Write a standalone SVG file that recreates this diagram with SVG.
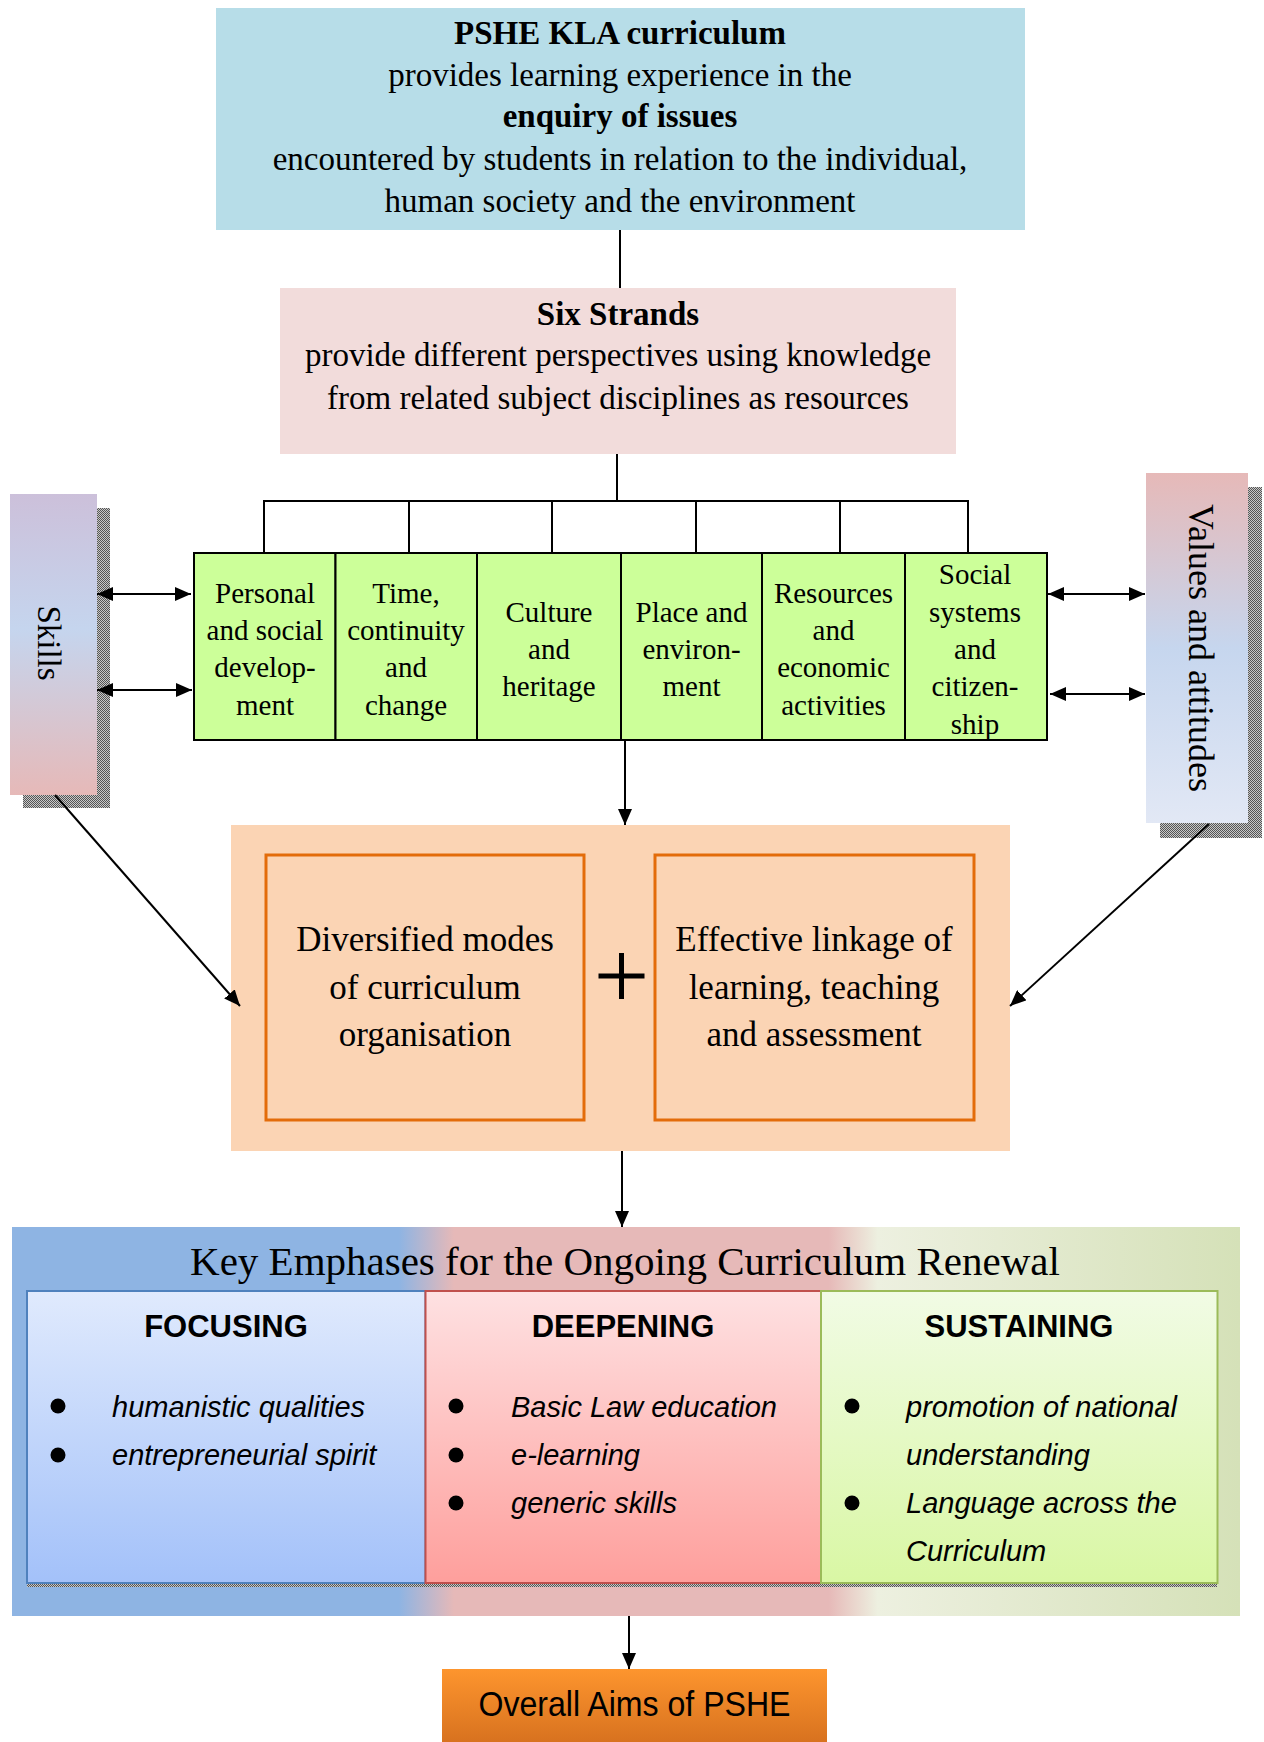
<svg xmlns="http://www.w3.org/2000/svg" width="1264" height="1742" viewBox="0 0 1264 1742">
<defs>
<style>
.serif{font-family:"Liberation Serif","Times New Roman",serif;fill:#000}
.sans{font-family:"Liberation Sans",Arial,sans-serif;fill:#000}
.c{text-anchor:middle}
.b{font-weight:bold}
.it{font-style:italic}
.conn{stroke:#000;stroke-width:2;fill:none}
.strand{fill:#CCFF99;stroke:#000;stroke-width:2}
.inner{fill:#FBD4B4;stroke:#E36C0A;stroke-width:3}
</style>
<marker id="ah" viewBox="0 0 16 14" refX="16" refY="7" markerWidth="16" markerHeight="14" markerUnits="userSpaceOnUse" orient="auto-start-reverse">
<path d="M0,0 L16,7 L0,14 z" fill="#000"/>
</marker>
<pattern id="dither" width="2" height="2" patternUnits="userSpaceOnUse">
<rect width="2" height="2" fill="#c8c8c8"/>
<rect width="1" height="1" fill="#555"/>
<rect x="1" y="1" width="1" height="1" fill="#555"/>
</pattern>
<linearGradient id="gSkills" x1="0" y1="0" x2="0" y2="1">
<stop offset="0" stop-color="#CCC0DA"/>
<stop offset="0.45" stop-color="#C5D5EE"/>
<stop offset="1" stop-color="#E6B9B8"/>
</linearGradient>
<linearGradient id="gValues" x1="0" y1="0" x2="0" y2="1">
<stop offset="0" stop-color="#E6B9B8"/>
<stop offset="0.5" stop-color="#C6D6EE"/>
<stop offset="1" stop-color="#E2E8F5"/>
</linearGradient>
<linearGradient id="gKey" x1="0" y1="0" x2="1" y2="0">
<stop offset="0" stop-color="#8EB4E3"/>
<stop offset="0.315" stop-color="#8EB4E3"/>
<stop offset="0.36" stop-color="#E6B9B8"/>
<stop offset="0.665" stop-color="#E6B9B8"/>
<stop offset="0.705" stop-color="#EDF0E0"/>
<stop offset="1" stop-color="#D5E1B8"/>
</linearGradient>
<linearGradient id="gFoc" x1="0" y1="0" x2="0" y2="1">
<stop offset="0" stop-color="#E0EAFD"/>
<stop offset="1" stop-color="#A3C1F9"/>
</linearGradient>
<linearGradient id="gDeep" x1="0" y1="0" x2="0" y2="1">
<stop offset="0" stop-color="#FEE1E2"/>
<stop offset="1" stop-color="#FE9F9C"/>
</linearGradient>
<linearGradient id="gSus" x1="0" y1="0" x2="0" y2="1">
<stop offset="0" stop-color="#F1FBE5"/>
<stop offset="1" stop-color="#D9F7A4"/>
</linearGradient>
<linearGradient id="gAims" x1="0" y1="0" x2="0" y2="1">
<stop offset="0" stop-color="#FD952E"/>
<stop offset="1" stop-color="#D8721F"/>
</linearGradient>
</defs>
<rect width="1264" height="1742" fill="#fff"/>

<g id="pshe">
<rect x="216" y="8" width="809" height="222" fill="#B7DDE8"/>
<text class="serif c b" x="620" y="44" font-size="33">PSHE KLA curriculum</text>
<text class="serif c" x="620" y="86" font-size="33">provides learning experience in the</text>
<text class="serif c b" x="620" y="127" font-size="33">enquiry of issues</text>
<text class="serif c" x="620" y="170" font-size="33">encountered by students in relation to the individual,</text>
<text class="serif c" x="620" y="212" font-size="33">human society and the environment</text>
</g>

<g id="six-strands">
<rect x="280" y="288" width="676" height="166" fill="#F2DCDB"/>
<text class="serif c b" x="618" y="325" font-size="33">Six Strands</text>
<text class="serif c" x="618" y="366" font-size="33">provide different perspectives using knowledge</text>
<text class="serif c" x="618" y="409" font-size="33">from related subject disciplines as resources</text>
</g>

<g id="skills">
<rect x="23" y="508" width="87" height="300" fill="url(#dither)"/>
<rect x="10" y="494" width="87" height="301" fill="url(#gSkills)"/>
<text class="serif c" transform="translate(38,643) rotate(90)" x="0" y="0" font-size="33">Skills</text>
</g>

<g id="values">
<rect x="1160" y="487" width="102" height="351" fill="url(#dither)"/>
<rect x="1146" y="473" width="102" height="350" fill="url(#gValues)"/>
<text class="serif c" transform="translate(1189,648) rotate(90)" x="0" y="0" font-size="36">Values and attitudes</text>
</g>

<g id="strand1">
<rect class="strand" x="194" y="553" width="141.5" height="187"/>
<text class="serif c" font-size="29"><tspan x="265" y="603">Personal</tspan><tspan x="265" y="640">and social</tspan><tspan x="265" y="677">develop-</tspan><tspan x="265" y="715">ment</tspan></text>
</g>
<g id="strand2">
<rect class="strand" x="335.5" y="553" width="141.5" height="187"/>
<text class="serif c" font-size="29"><tspan x="406" y="603">Time,</tspan><tspan x="406" y="640">continuity</tspan><tspan x="406" y="677">and</tspan><tspan x="406" y="715">change</tspan></text>
</g>
<g id="strand3">
<rect class="strand" x="477" y="553" width="144" height="187"/>
<text class="serif c" font-size="29"><tspan x="549" y="622">Culture</tspan><tspan x="549" y="659">and</tspan><tspan x="549" y="696">heritage</tspan></text>
</g>
<g id="strand4">
<rect class="strand" x="621" y="553" width="141" height="187"/>
<text class="serif c" font-size="29"><tspan x="691.5" y="622">Place and</tspan><tspan x="691.5" y="659">environ-</tspan><tspan x="691.5" y="696">ment</tspan></text>
</g>
<g id="strand5">
<rect class="strand" x="762" y="553" width="143" height="187"/>
<text class="serif c" font-size="29"><tspan x="833.5" y="603">Resources</tspan><tspan x="833.5" y="640">and</tspan><tspan x="833.5" y="677">economic</tspan><tspan x="833.5" y="715">activities</tspan></text>
</g>
<g id="strand6">
<rect class="strand" x="905" y="553" width="142" height="187"/>
<text class="serif c" font-size="29"><tspan x="975" y="584">Social</tspan><tspan x="975" y="622">systems</tspan><tspan x="975" y="659">and</tspan><tspan x="975" y="696">citizen-</tspan><tspan x="975" y="734">ship</tspan></text>
</g>

<g id="modes">
<rect x="231" y="825" width="779" height="326" fill="#FBD4B4"/>
<rect class="inner" x="266" y="855" width="318" height="265"/>
<text class="serif c" font-size="35"><tspan x="425" y="951">Diversified modes</tspan><tspan x="425" y="999">of curriculum</tspan><tspan x="425" y="1046">organisation</tspan></text>
<path d="M621.5,953 V999 M598.5,976 H644.5" stroke="#000" stroke-width="5" fill="none"/>
<rect class="inner" x="655" y="855" width="319" height="265"/>
<text class="serif c" font-size="35"><tspan x="814" y="951">Effective linkage of</tspan><tspan x="814" y="999">learning, teaching</tspan><tspan x="814" y="1046">and assessment</tspan></text>
</g>

<g id="key-emphases">
<rect x="12" y="1227" width="1228" height="389" fill="url(#gKey)"/>
<text class="serif c" x="625" y="1275" font-size="41">Key Emphases for the Ongoing Curriculum Renewal</text>
<rect x="27" y="1583" width="1190" height="4" fill="url(#dither)"/>
</g>

<g id="focusing">
<rect x="27" y="1291" width="398.5" height="292" fill="url(#gFoc)" stroke="#4F81BD" stroke-width="2"/>
<text class="sans c b" x="226" y="1337" font-size="31">FOCUSING</text>
<circle cx="58" cy="1406" r="7.5"/>
<circle cx="58" cy="1455" r="7.5"/>
<text class="sans it" font-size="29"><tspan x="112" y="1417">humanistic qualities</tspan><tspan x="112" y="1465">entrepreneurial spirit</tspan></text>
</g>

<g id="deepening">
<rect x="425.5" y="1291" width="395.5" height="292" fill="url(#gDeep)" stroke="#C0504D" stroke-width="2"/>
<text class="sans c b" x="623" y="1337" font-size="31">DEEPENING</text>
<circle cx="456" cy="1406" r="7.5"/>
<circle cx="456" cy="1455" r="7.5"/>
<circle cx="456" cy="1503" r="7.5"/>
<text class="sans it" font-size="29"><tspan x="511" y="1417">Basic Law education</tspan><tspan x="511" y="1465">e-learning</tspan><tspan x="511" y="1513">generic skills</tspan></text>
</g>

<g id="sustaining">
<rect x="821" y="1291" width="396.5" height="292" fill="url(#gSus)" stroke="#9BBB59" stroke-width="2"/>
<text class="sans c b" x="1019" y="1337" font-size="31">SUSTAINING</text>
<circle cx="852" cy="1406" r="7.5"/>
<circle cx="852" cy="1503" r="7.5"/>
<text class="sans it" font-size="29"><tspan x="906" y="1417">promotion of national</tspan><tspan x="906" y="1465">understanding</tspan><tspan x="906" y="1513">Language across the</tspan><tspan x="906" y="1561">Curriculum</tspan></text>
</g>

<g id="aims">
<rect x="442" y="1669" width="385" height="73" fill="url(#gAims)"/>
<text class="sans c" x="634.5" y="1716" font-size="35" textLength="312" lengthAdjust="spacingAndGlyphs">Overall Aims of PSHE</text>
</g>

<g id="connectors">
<line class="conn" x1="620" y1="230" x2="620" y2="288"/>
<line class="conn" x1="617" y1="454" x2="617" y2="501"/>
<line class="conn" x1="263" y1="501" x2="969" y2="501"/>
<line class="conn" x1="264" y1="501" x2="264" y2="553"/>
<line class="conn" x1="409" y1="501" x2="409" y2="553"/>
<line class="conn" x1="552" y1="501" x2="552" y2="553"/>
<line class="conn" x1="696" y1="501" x2="696" y2="553"/>
<line class="conn" x1="840" y1="501" x2="840" y2="553"/>
<line class="conn" x1="968" y1="501" x2="968" y2="553"/>
<line class="conn" x1="97" y1="594" x2="191" y2="594" marker-start="url(#ah)" marker-end="url(#ah)"/>
<line class="conn" x1="97" y1="690" x2="192" y2="690" marker-start="url(#ah)" marker-end="url(#ah)"/>
<line class="conn" x1="1048" y1="594" x2="1145" y2="594" marker-start="url(#ah)" marker-end="url(#ah)"/>
<line class="conn" x1="1050" y1="694" x2="1145" y2="694" marker-start="url(#ah)" marker-end="url(#ah)"/>
<line class="conn" x1="625" y1="741" x2="625" y2="825" marker-end="url(#ah)"/>
<line class="conn" x1="55" y1="795" x2="240" y2="1006" marker-end="url(#ah)"/>
<line class="conn" x1="1209" y1="824" x2="1010" y2="1006" marker-end="url(#ah)"/>
<line class="conn" x1="622" y1="1151" x2="622" y2="1227" marker-end="url(#ah)"/>
<line class="conn" x1="629" y1="1616" x2="629" y2="1669" marker-end="url(#ah)"/>
</g>
</svg>
